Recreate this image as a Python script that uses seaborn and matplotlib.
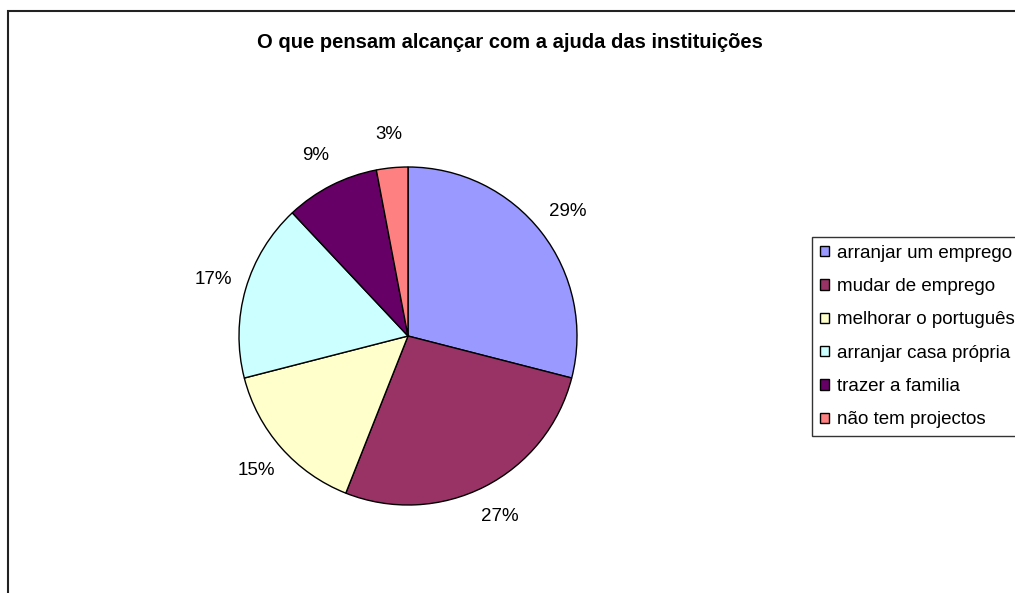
import matplotlib
matplotlib.use("Agg")
import matplotlib.pyplot as plt
from matplotlib.patches import Rectangle
import seaborn as sns

# Data
categories = ["arranjar um emprego", "mudar de emprego", "melhorar o português",
              "arranjar casa própria", "trazer a familia", "não tem projectos"]
values = [29, 27, 15, 17, 9, 3]
colors = ["#9999FF", "#993366", "#FFFFCC", "#CCFFFF", "#660066", "#FF8080"]
title = "O que pensam alcançar com a ajuda das instituições"

sns.set_theme(style="white")
plt.rcParams["font.family"] = ["Liberation Sans", "DejaVu Sans"]
plt.rcParams["text.color"] = "black"

W, H = 1015, 593
fig = plt.figure(figsize=(W / 100, H / 100), dpi=100)

# outer chart frame (cut off at the right and bottom like the original)
fig.add_artist(Rectangle((8 / W, -0.1), 1.2, 1.1 - 11 / H, transform=fig.transFigure,
                         fill=False, edgecolor="#222222", linewidth=1.5))

# pie axes: centre ~(408, 336) px, radius ~169 px
lim = 1.45
size = 2 * lim * 169
cx, cy = 408, 336
ax = fig.add_axes([(cx - size / 2) / W, (H - cy - size / 2) / H, size / W, size / H])
wedges, texts, autotexts = ax.pie(
    values, colors=colors, startangle=90, counterclock=False,
    autopct="%1.0f%%", pctdistance=1.2,
    wedgeprops=dict(edgecolor="black", linewidth=1.0),
    textprops=dict(fontsize=13.5, color="black"),
)
ax.set_xlim(-lim, lim)
ax.set_ylim(-lim, lim)
ax.set_aspect("equal")
ax.axis("off")

fig.text(510 / W, 1 - 43 / H, title, ha="center", va="center",
         fontsize=14.5, fontweight="bold", color="black")

leg = fig.legend(wedges, categories, loc="upper left",
                 bbox_to_anchor=(812 / W, 1 - 237 / H),
                 fontsize=13.5, frameon=True, fancybox=False,
                 handlelength=0.47, handleheight=0.47, handletextpad=0.45,
                 labelspacing=0.87, borderpad=0.42, borderaxespad=0)
leg.get_frame().set_edgecolor("black")
leg.get_frame().set_linewidth(1.0)

fig.savefig("out.png", dpi=100, facecolor="white")
